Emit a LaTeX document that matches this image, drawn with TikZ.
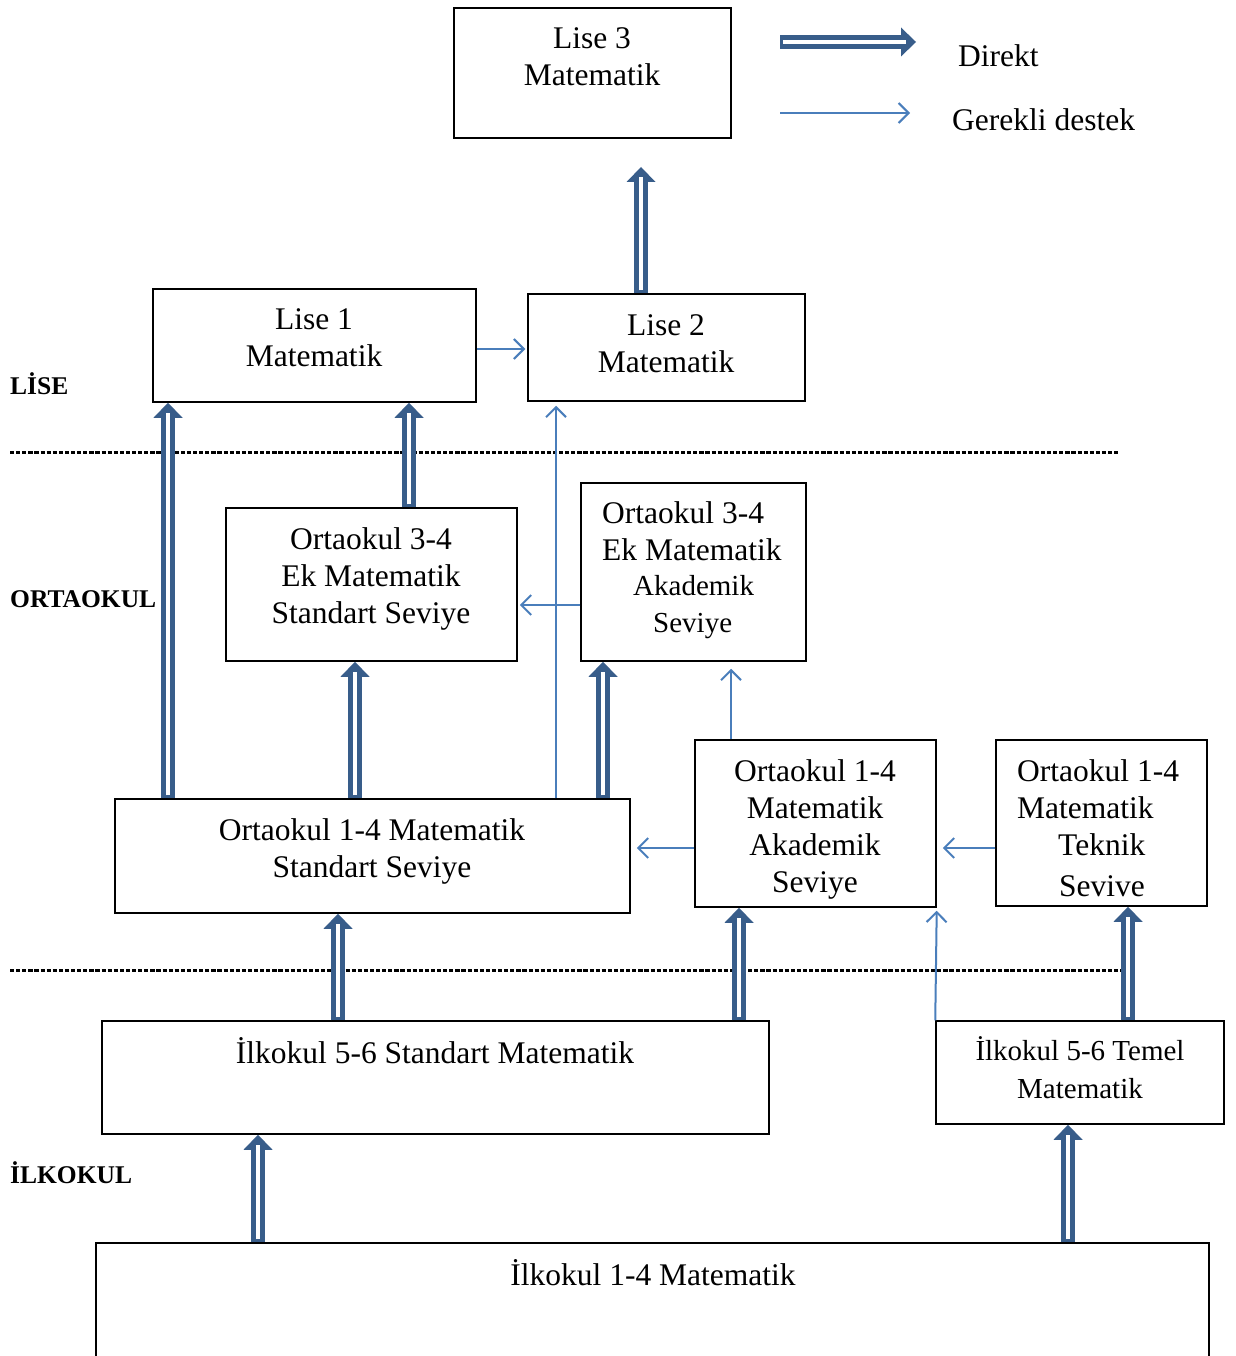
\documentclass[tikz,border=0pt]{standalone}
\usepackage{fontspec}
\setmainfont{Liberation Serif}
\usetikzlibrary{arrows.meta}

\definecolor{dirblue}{RGB}{56,93,138}
\definecolor{supblue}{RGB}{74,126,187}

\tikzset{
  box/.style={draw=black, line width=1.5pt, rectangle, inner sep=0pt},
  boxtext/.style={anchor=north, align=center, inner sep=0pt,
    font=\fontsize{31.5}{37}\selectfont},
  boxtextleft/.style={anchor=north west, align=left, inner sep=0pt,
    font=\fontsize{31.5}{37}\selectfont},
  level/.style={anchor=west, inner sep=0pt,
    font=\fontsize{25.5}{30}\selectfont\bfseries},
  legendtext/.style={anchor=west, inner sep=0pt,
    font=\fontsize{31.5}{37.5}\selectfont},
  direct/.style={draw=dirblue, line width=13.5pt,
    -{Triangle[width=29pt,length=15pt,line width=0pt 0 1]}},
  directcore/.style={draw=white, line width=3.5pt, shorten >=10pt, shorten <=3pt},
  support/.style={draw=supblue, line width=2pt,
    -{Straight Barb[length=10pt,width=20pt]}},
  divider/.style={line width=3pt, dash pattern=on 4.2pt off 1.9pt}
}

% double "direct" arrow: dark outline with a white core
\newcommand\directarrow[2]{%
  \draw[direct] #1 -- #2;
  \draw[directcore] #1 -- #2;}

\begin{document}
\begin{tikzpicture}[x=1pt, y=-1pt]
\useasboundingbox (0,0) rectangle (1235,1356);

% level separators
\draw[divider] (10,452) -- (1119,452);
\draw[divider] (10,970) -- (1122,970);

% level names
\node[level] (lise) at (10,384) {LİSE};
\node[level] (orta) at (10,599) {ORTAOKUL};
\node[level] (ilk) at (10,1173) {İLKOKUL};

% course boxes
\node[box, minimum width=277pt, minimum height=130pt] (l3) at (592.5,73) {};
\node[box, minimum width=323pt, minimum height=113pt] (l1) at (314.5,345.5) {};
\node[box, minimum width=277pt, minimum height=107pt] (l2) at (666.5,347.5) {};
\node[box, minimum width=291pt, minimum height=153pt] (o34s) at (371.5,584.5) {};
\node[box, minimum width=225pt, minimum height=178pt] (o34a) at (693.5,572) {};
\node[box, minimum width=515pt, minimum height=114pt] (o14s) at (372.5,856) {};
\node[box, minimum width=241pt, minimum height=167pt] (o14a) at (815.5,823.5) {};
\node[box, minimum width=211pt, minimum height=166pt] (o14t) at (1101.5,823) {};
\node[box, minimum width=667pt, minimum height=113pt] (i56s) at (435.5,1077.5) {};
\node[box, minimum width=288pt, minimum height=103pt] (i56t) at (1080,1072.5) {};
\node[box, minimum width=1113pt, minimum height=137pt] (i14) at (652.5,1311.5) {};

% box captions
\node[boxtext] (l3t) at (592,27) {Lise 3\\Matematik};
\node[boxtext] (l1t) at (314,308) {Lise 1\\Matematik};
\node[boxtext] (l2t) at (666,314) {Lise 2\\Matematik};
\node[boxtext] (o34st) at (371,527) {Ortaokul 3-4\\Ek Matematik\\Standart Seviye};
\node[boxtextleft] (o34at) at (602,501) {Ortaokul 3-4\\Ek Matematik\\[-2pt]
  \fontsize{29}{37}\selectfont\hspace*{31pt}Akademik\\
  \fontsize{29}{37}\selectfont\hspace*{51pt}Seviye};
\node[boxtext] (o14st) at (372,818) {Ortaokul 1-4 Matematik\\Standart Seviye};
\node[boxtext] (o14at) at (815,759) {Ortaokul 1-4\\Matematik\\Akademik\\Seviye};
\node[boxtextleft] (o14tt) at (1017,759) {Ortaokul 1-4\\Matematik\\
  \hspace*{41pt}Teknik\\[4pt]\hspace*{42pt}Sevive};
\node[boxtext] (i56st) at (435,1037) {İlkokul 5-6 Standart Matematik};
\node[boxtext, font=\fontsize{29}{38}\selectfont] (i56tt) at (1080,1036) {İlkokul 5-6 Temel\\Matematik};
\node[boxtext] (i14t) at (653,1259) {İlkokul 1-4 Matematik};

% legend
\coordinate (keyd1) at (780,42);
\coordinate (keyd2) at (916,42);
\coordinate (keys1) at (780,113);
\coordinate (keys2) at (910,113);
\directarrow{(keyd1)}{(keyd2)}
\draw[support] (keys1) -- (keys2);
\node[legendtext] (keyd) at (958,56) {Direkt};
\node[legendtext] (keys) at (952,120) {Gerekli destek};

% support connections
\draw[support, shorten >=2pt] (l1.east |- 0,349) -- (l2.west |- 0,349);
\draw[support, shorten >=4pt] (o14s.north -| 556,0) -- (l2.south -| 556,0);
\draw[support, shorten >=2pt] (o34a.west |- 0,605) -- (o34s.east |- 0,605);
\draw[support, shorten >=7pt] (o14a.north -| 731,0) -- (o34a.south -| 731,0);
\draw[support, shorten >=6pt] (o14a.west |- 0,848) -- (o14s.east |- 0,848);
\draw[support, shorten >=6pt] (o14t.west |- 0,848) -- (o14a.east |- 0,848);
\draw[support, shorten >=3pt] (i56t.north west) -- (o14a.south east);

% direct connections
\coordinate (l3foot) at (641,167);
\directarrow{(l2.north -| l3foot)}{(l3foot)}
\directarrow{(o14s.north -| 168,0)}{(l1.south -| 168,0)}
\directarrow{(o34s.north -| 409,0)}{(l1.south -| 409,0)}
\directarrow{(o14s.north -| 355,0)}{(o34s.south -| 355,0)}
\directarrow{(o14s.north -| 603,0)}{(o34a.south -| 603,0)}
\directarrow{(i56s.north -| 338,0)}{(o14s.south -| 338,0)}
\directarrow{(i56s.north -| 739,0)}{(o14a.south -| 739,0)}
\directarrow{(i56t.north -| 1128,0)}{(o14t.south -| 1128,0)}
\directarrow{(i14.north -| 258,0)}{(i56s.south -| 258,0)}
\directarrow{(i14.north -| 1068,0)}{(i56t.south -| 1068,0)}
\end{tikzpicture}
\end{document}
